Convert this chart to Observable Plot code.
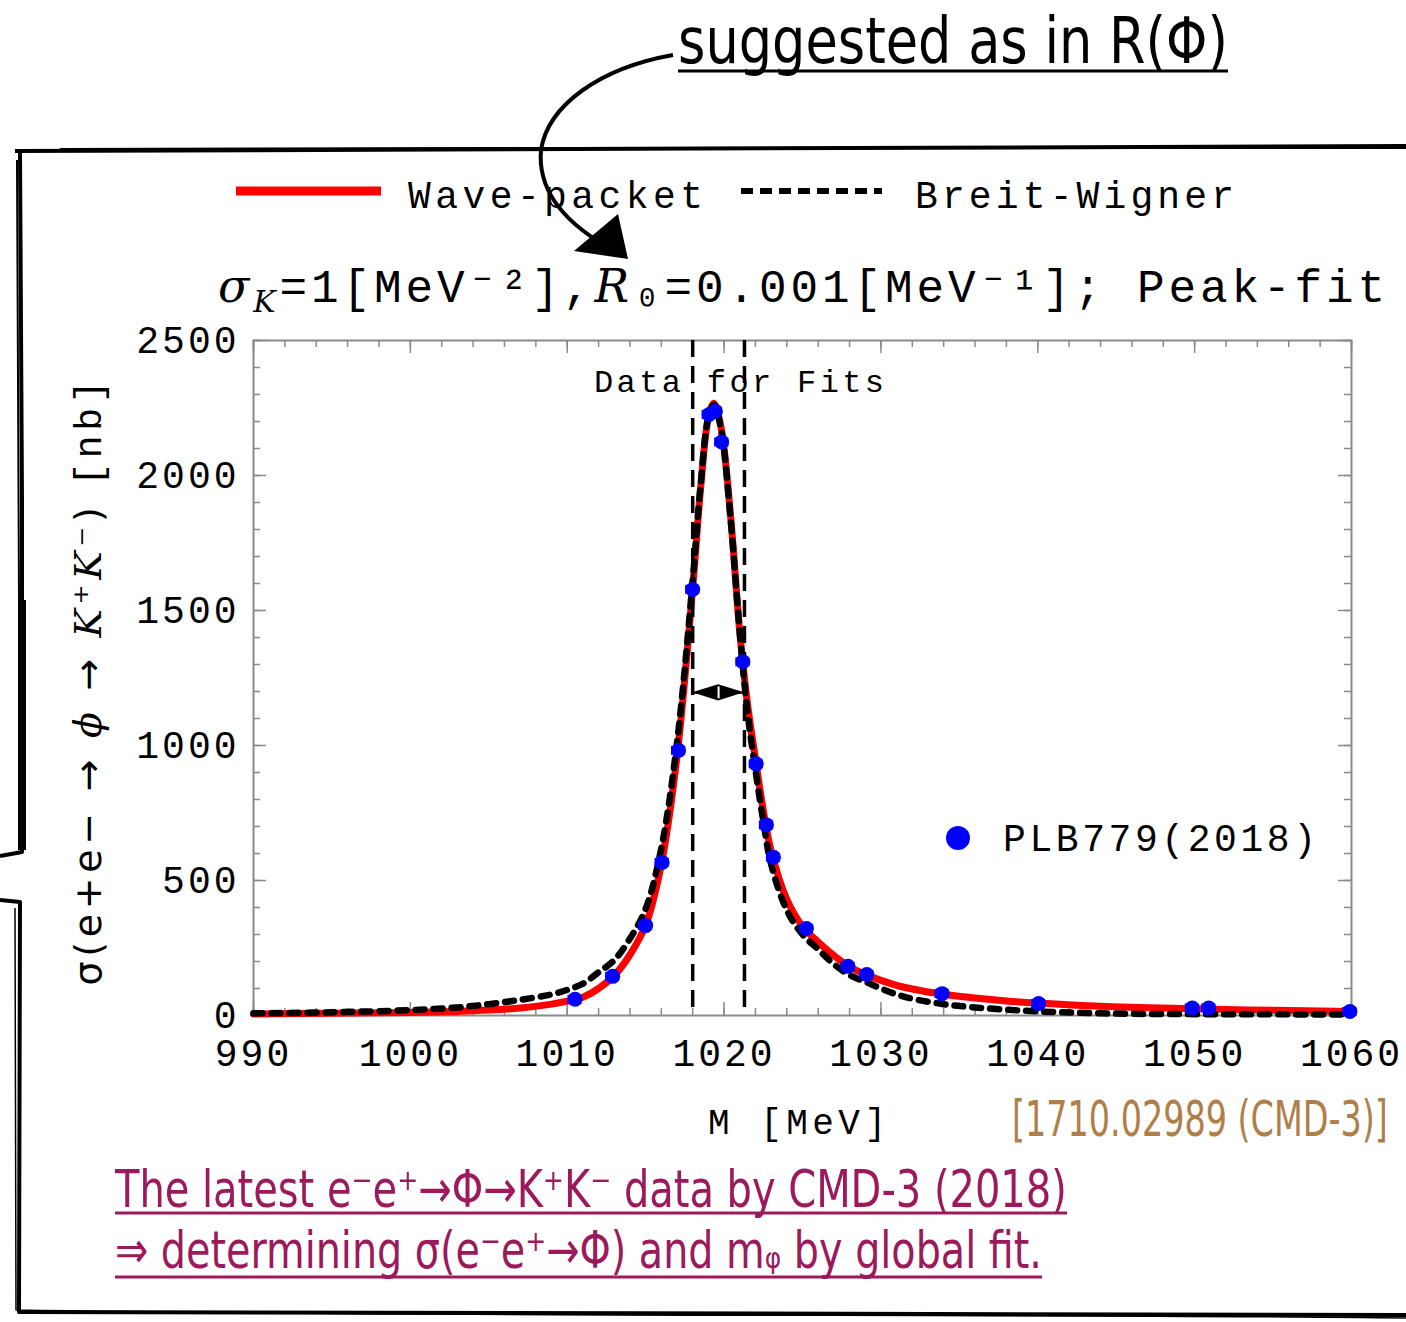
<!DOCTYPE html>
<html>
<head>
<meta charset="utf-8">
<script src="https://cdn.jsdelivr.net/npm/d3@7"></script>
<script src="https://cdn.jsdelivr.net/npm/@observablehq/plot@0.6"></script>
<style>
  html, body { margin: 0; padding: 0; background: #fff; }
  #page { position: relative; width: 1406px; height: 1322px; overflow: hidden; background: #fff; }
  #chart { position: absolute; left: 0; top: 320px; }
  #overlay { position: absolute; left: 0; top: 0; pointer-events: none; }
  .mono { font-family: "Liberation Mono", "DejaVu Sans Mono", monospace; }
  .narrow { font-family: "Liberation Sans Narrow", "DejaVu Sans Condensed", "Liberation Sans", sans-serif; font-stretch: condensed; }
</style>
</head>
<body>
<div id="page">
  <div id="chart"></div>
  <svg id="overlay" width="1406" height="1322" xmlns="http://www.w3.org/2000/svg"></svg>
</div>
<script>
// ---------------- data ----------------
// CMD-3 PLB779 (2018) measured points
const massMeV  = [1010.5, 1012.9, 1015.0, 1016.05, 1017.1, 1018.0, 1019.05, 1019.45, 1019.85, 1021.2, 1022.05, 1022.7, 1023.15, 1025.25, 1027.9, 1029.1, 1033.9, 1040.05, 1049.85, 1050.9, 1059.9];
const sigmaNb  = [60, 145, 333, 567, 982, 1578, 2226, 2238, 2124, 1310, 932, 706, 586, 322, 182, 152, 81, 44, 28, 28, 15];
const massErrMeV = 0.45;

// Wave-packet fit (red solid)
const wpMass  = [990, 995, 1000, 1003, 1005, 1007, 1009, 1010, 1011, 1012, 1013, 1014, 1015, 1016, 1017, 1018, 1018.5, 1019, 1019.35, 1019.8, 1020.4, 1021, 1021.5, 1022, 1022.5, 1023, 1024, 1025, 1026, 1027, 1028, 1029, 1030, 1031, 1032, 1033, 1034, 1036, 1038, 1040, 1044, 1050, 1055, 1060];
const wpSigma = [6, 8, 11, 15, 20, 28, 42, 53, 68, 100, 148, 225, 335, 560, 960, 1585, 1950, 2215, 2268, 2180, 1860, 1420, 1150, 950, 760, 610, 430, 330, 272, 222, 180, 153, 130, 112, 98, 87, 79, 65, 54, 46, 34, 25, 19, 15];

// Breit-Wigner fit (black dotted)
const bwMass  = [990, 995, 1000, 1003, 1005, 1007, 1009, 1010, 1011, 1012, 1013, 1014, 1015, 1016, 1017, 1018, 1018.5, 1019, 1019.35, 1019.8, 1020.4, 1021, 1021.5, 1022, 1022.5, 1023, 1024, 1025, 1026, 1027, 1028, 1029, 1030, 1031, 1032, 1034, 1036, 1039, 1044, 1050, 1060];
const bwSigma = [8, 12, 20, 30, 42, 58, 78, 95, 118, 160, 205, 285, 395, 620, 1010, 1610, 1960, 2215, 2262, 2175, 1850, 1420, 1120, 910, 720, 560, 390, 300, 245, 190, 150, 125, 100, 78, 62, 42, 30, 18, 8, 5, 4];

// fit window and half-maximum marker
const fitWindowMeV = [1018.0, 1021.3];
const halfMaxNb = 1195;

// axis ticks
const xMajorTicks = [990, 1000, 1010, 1020, 1030, 1040, 1050, 1060];
const xMinorTicks = d3.range(990, 1061, 2);
const yMajorTicks = [0, 500, 1000, 1500, 2000, 2500];
const yMinorTicks = d3.range(0, 2501, 100);

// ---------------- tables ----------------
const points = massMeV.map((m, i) => ({m, s: sigmaNb[i], m1: m - massErrMeV, m2: m + massErrMeV}));
const wp = wpMass.map((m, i) => ({m, s: wpSigma[i]}));
const bw = bwMass.map((m, i) => ({m, s: bwSigma[i]}));
const midFit = (fitWindowMeV[0] + fitWindowMeV[1]) / 2;
const diamond = [
  {m: fitWindowMeV[0], y1: halfMaxNb, y2: halfMaxNb},
  {m: midFit, y1: halfMaxNb - 30, y2: halfMaxNb + 30},
  {m: fitWindowMeV[1], y1: halfMaxNb, y2: halfMaxNb}
];
const halfMaxSeg = [{x1: fitWindowMeV[0], x2: fitWindowMeV[1], y: halfMaxNb}];
const centerMark = [{x: midFit, y1: halfMaxNb - 22, y2: halfMaxNb + 22}];

const W = 1406, H = 760;
const mT = 20, mB = 65, mL = 253, mR = 55;
const frameH = H - mT - mB, frameW = W - mL - mR;
const tickGray = "#8a8a8a";

const chart = Plot.plot({
  width: W, height: H,
  marginTop: mT, marginBottom: mB, marginLeft: mL, marginRight: mR,
  x: {domain: [990, 1060]},
  y: {domain: [0, 2500]},
  style: {fontFamily: "Liberation Mono, DejaVu Sans Mono, monospace", background: "white", color: "black", overflow: "visible"},
  marks: [
    // minor/major ticks, inward on all four sides
    Plot.tickX(xMinorTicks, {x: d => d, stroke: tickGray, strokeWidth: 1.5, insetTop: frameH - 7}),
    Plot.tickX(xMajorTicks, {x: d => d, stroke: tickGray, strokeWidth: 1.5, insetTop: frameH - 13}),
    Plot.tickX(xMinorTicks, {x: d => d, stroke: tickGray, strokeWidth: 1.5, insetBottom: frameH - 7}),
    Plot.tickX(xMajorTicks, {x: d => d, stroke: tickGray, strokeWidth: 1.5, insetBottom: frameH - 13}),
    Plot.tickY(yMinorTicks, {y: d => d, stroke: tickGray, strokeWidth: 1.5, insetRight: frameW - 7}),
    Plot.tickY(yMajorTicks, {y: d => d, stroke: tickGray, strokeWidth: 1.5, insetRight: frameW - 13}),
    Plot.tickY(yMinorTicks, {y: d => d, stroke: tickGray, strokeWidth: 1.5, insetLeft: frameW - 7}),
    Plot.tickY(yMajorTicks, {y: d => d, stroke: tickGray, strokeWidth: 1.5, insetLeft: frameW - 13}),
    Plot.frame({stroke: tickGray, strokeWidth: 2}),
    Plot.axisX({ticks: xMajorTicks, tickSize: 0, tickPadding: 24, fontSize: 38, tickFormat: d => String(d), label: null}),
    Plot.axisY({ticks: yMajorTicks, tickSize: 0, tickPadding: 14, fontSize: 38, tickFormat: d => String(d), label: null}),
    // fits
    Plot.line(wp, {x: "m", y: "s", stroke: "#ff0000", strokeWidth: 7, curve: "catmull-rom"}),
    Plot.line(bw, {x: "m", y: "s", stroke: "black", strokeWidth: 6.5, strokeDasharray: "9,9", curve: "catmull-rom"}),
    // fit window
    Plot.ruleX(fitWindowMeV, {x: d => d, stroke: "black", strokeWidth: 3.5, strokeDasharray: "17,9"}),
    Plot.areaY(diamond, {x: "m", y1: "y1", y2: "y2", fill: "black"}),
    Plot.ruleY(halfMaxSeg, {y: "y", x1: "x1", x2: "x2", stroke: "black", strokeWidth: 2}),
    Plot.ruleX(centerMark, {x: "x", y1: "y1", y2: "y2", stroke: "white", strokeWidth: 2}),
    // data points
    Plot.ruleY(points, {y: "s", x1: "m1", x2: "m2", stroke: "#0000ff", strokeWidth: 9}),
    Plot.dot(points, {x: "m", y: "s", r: 7.5, fill: "#0000ff", stroke: "none"})
  ]
});
chart.style.letterSpacing = "3px";
document.getElementById("chart").appendChild(chart);

// ---------------- overlay: titles, legends, sketch frame, annotation ----------------
const ov = d3.select("#overlay");

// place a text at (x, baseline y) and squeeze it horizontally to the given width
function fittedText(str, x, y, size, width, cls, fill) {
  const g = ov.append("g");
  const tx = g.append("text").attr("class", cls).attr("font-size", size).attr("fill", fill || "black").text(str);
  const natural = tx.node().getComputedTextLength() || width;
  g.attr("transform", `translate(${x},${y}) scale(${width / natural},1)`);
  return tx;
}

// sketchy frame
const frameStrokes = [
  {d: "M 15 151 C 400 147, 900 149, 1406 146", w: 4},
  {d: "M 60 149 C 500 146, 1000 150, 1406 148", w: 2},
  {d: "M 20 153 L 22 500 L 22 852 L 0 856", w: 4},
  {d: "M 17 160 L 19 600 L 19 850", w: 2},
  {d: "M 24 600 L 24 850", w: 4},
  {d: "M 0 900 L 20 902 L 19 1312 L 1406 1315", w: 4},
  {d: "M 15 908 L 16 1310 C 500 1318, 1000 1313, 1406 1318", w: 1.5}
];
frameStrokes.forEach(s => ov.append("path").attr("d", s.d).attr("fill", "none")
  .attr("stroke", "black").attr("stroke-width", s.w).attr("stroke-linejoin", "round"));

// annotation
fittedText("suggested as in R(Φ)", 678, 63, 64, 550, "narrow");
ov.append("line").attr("x1", 678).attr("x2", 1228).attr("y1", 71).attr("y2", 71)
  .attr("stroke", "black").attr("stroke-width", 3);

// legend row
ov.append("line").attr("x1", 236).attr("x2", 381).attr("y1", 191).attr("y2", 191)
  .attr("stroke", "#ff0000").attr("stroke-width", 9);
ov.append("text").attr("class", "mono").attr("x", 408).attr("y", 208).attr("font-size", 38)
  .attr("textLength", 295).attr("lengthAdjust", "spacing").text("Wave-packet");
ov.append("line").attr("x1", 741).attr("x2", 882).attr("y1", 191).attr("y2", 191)
  .attr("stroke", "black").attr("stroke-width", 6).attr("stroke-dasharray", "12,7");
ov.append("text").attr("class", "mono").attr("x", 915).attr("y", 208).attr("font-size", 38)
  .attr("textLength", 319).attr("lengthAdjust", "spacing").text("Breit-Wigner");

// arrow from annotation
ov.append("path")
  .attr("d", "M 673 55 C 600 68, 548 105, 541 150 C 537 195, 570 225, 606 246")
  .attr("fill", "none").attr("stroke", "black").attr("stroke-width", 4);
ov.append("path").attr("d", "M 628 259 L 574 251 L 618 214 Z").attr("fill", "black");

// parameter title
const t = ov.append("text").attr("class", "mono").attr("x", 218).attr("y", 302).attr("font-size", 46)
  .attr("textLength", 1167).attr("lengthAdjust", "spacing");
t.append("tspan").attr("font-family", "DejaVu Serif, serif").attr("font-style", "italic").text("σ");
t.append("tspan").attr("font-family", "DejaVu Serif, serif").attr("font-style", "italic").attr("font-size", 30).attr("dy", 10).text("K");
t.append("tspan").attr("dy", -10).text("=1[MeV⁻²],");
t.append("tspan").attr("font-family", "DejaVu Serif, serif").attr("font-style", "italic").text("R");
t.append("tspan").text("₀=0.001[MeV⁻¹]; Peak-fit");

// in-plot annotation and data legend
ov.append("text").attr("class", "mono").attr("x", 594).attr("y", 392).attr("font-size", 32)
  .attr("textLength", 290).attr("lengthAdjust", "spacing").text("Data for Fits");
ov.append("circle").attr("cx", 958).attr("cy", 838).attr("r", 12).attr("fill", "#0000ff");
ov.append("text").attr("class", "mono").attr("x", 1003).attr("y", 851).attr("font-size", 38)
  .attr("textLength", 313).attr("lengthAdjust", "spacing").text("PLB779(2018)");

// y-axis label (rotated)
const yl = ov.append("text").attr("transform", "translate(101,683) rotate(-90)")
  .attr("text-anchor", "middle").attr("font-size", 38).attr("font-family", "DejaVu Sans, sans-serif")
  .attr("textLength", 605).attr("lengthAdjust", "spacing");
yl.append("tspan").text("σ(e+e− → ");
yl.append("tspan").attr("font-family", "DejaVu Serif, serif").attr("font-style", "italic").text("ϕ");
yl.append("tspan").text(" → ");
yl.append("tspan").attr("font-family", "DejaVu Serif, serif").attr("font-style", "italic").text("K⁺K⁻");
yl.append("tspan").text(")  ");
yl.append("tspan").attr("font-family", "Liberation Mono, monospace").text("[nb]");

// x-axis label
ov.append("text").attr("class", "mono").attr("x", 708).attr("y", 1134).attr("font-size", 36)
  .attr("textLength", 178).attr("lengthAdjust", "spacing").text("M [MeV]");

// reference
fittedText("[1710.02989 (CMD-3)]", 1012, 1136, 50, 376, "narrow", "#b07e48");

// bottom statement
const magenta = "#9c1a5c";
fittedText("The latest e⁻e⁺→Φ→K⁺K⁻ data by CMD-3 (2018)", 115, 1207, 52, 952, "narrow", magenta);
ov.append("line").attr("x1", 115).attr("x2", 1067).attr("y1", 1213).attr("y2", 1213)
  .attr("stroke", magenta).attr("stroke-width", 3);
fittedText("⇒ determining σ(e⁻e⁺→Φ) and mᵩ by global fit.", 115, 1268, 52, 927, "narrow", magenta);
ov.append("line").attr("x1", 115).attr("x2", 1042).attr("y1", 1277).attr("y2", 1277)
  .attr("stroke", magenta).attr("stroke-width", 3);
</script>
</body>
</html>
